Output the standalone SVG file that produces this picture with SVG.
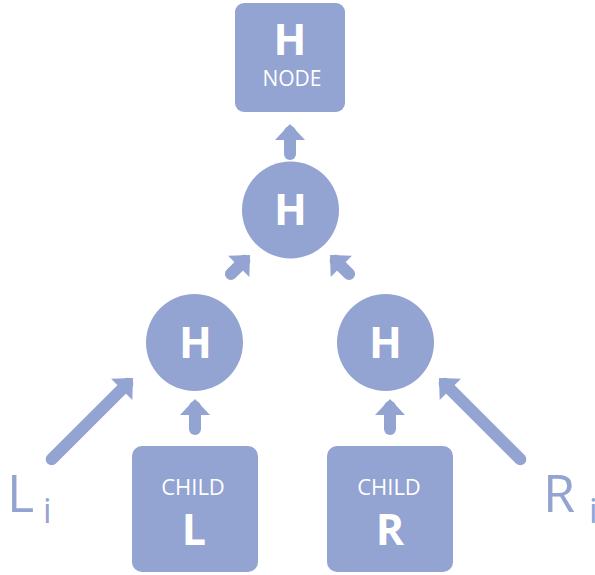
<svg xmlns="http://www.w3.org/2000/svg" width="595" height="575" viewBox="0 0 595 575">
<style>
.n{fill:#93a3d2}
.t{fill:#ffffff;font-family:"Open Sans","Noto Sans","DejaVu Sans",sans-serif;text-anchor:middle}
.b{font-weight:bold;font-size:43px}
.s{font-size:21px}
.lab{fill:#93a3d2;font-family:"Open Sans","Noto Sans","DejaVu Sans",sans-serif}
.sh{stroke:#93a3d2;stroke-width:12;stroke-linecap:round;fill:none}
.hd{fill:#93a3d2}
</style>
<defs>
<g id="arr">
<line class="sh" x1="0" y1="8" x2="0" y2="30"/>
<polygon class="hd" points="0,0 15,16 -15,16"/>
</g>
<g id="arrd">
<line class="sh" x1="0" y1="8" x2="0" y2="27"/>
<polygon class="hd" points="0,0 15,16 -15,16"/>
</g>
</defs>
<g id="connectors">
<use href="#arr" transform="translate(290,124)"/>
<use href="#arrd" transform="translate(250,255) rotate(45)"/>
<use href="#arrd" transform="translate(330,255) rotate(-45)"/>
<use href="#arr" transform="translate(195,399)"/>
<use href="#arr" transform="translate(390,399)"/>
<g transform="translate(133,378) rotate(45)">
<line class="sh" x1="0" y1="8" x2="0" y2="115"/>
<polygon class="hd" points="0,0 15,16 -15,16"/>
</g>
<g transform="translate(439,378) rotate(-45)">
<line class="sh" x1="0" y1="8" x2="0" y2="115"/>
<polygon class="hd" points="0,0 15,16 -15,16"/>
</g>
</g>
<g id="node-top">
<rect class="n" x="235" y="3" width="110" height="109" rx="9"/>
<text class="t b" x="290" y="55">H</text>
<text class="t s" x="292" y="86">NODE</text>
</g>
<g id="h-top">
<circle class="n" cx="290.5" cy="210" r="48.5"/>
<text class="t b" x="290.5" y="225">H</text>
</g>
<g id="h-left">
<circle class="n" cx="194.5" cy="342.5" r="48.5"/>
<text class="t b" x="195.5" y="358">H</text>
</g>
<g id="h-right">
<circle class="n" cx="385.5" cy="342.5" r="48.5"/>
<text class="t b" x="385.5" y="358">H</text>
</g>
<g id="child-l">
<rect class="n" x="132" y="446" width="126" height="126" rx="10"/>
<text class="t" x="193" y="495" font-size="22">CHILD</text>
<text class="t b" x="194" y="545">L</text>
</g>
<g id="child-r">
<rect class="n" x="327" y="446" width="126" height="126" rx="10"/>
<text class="t" x="389" y="495" font-size="22">CHILD</text>
<text class="t b" x="390" y="545">R</text>
</g>
<g id="label-li">
<text class="lab" x="7" y="512" font-size="52">L</text>
<text class="lab" x="43" y="523" font-size="34">i</text>
</g>
<g id="label-ri">
<text class="lab" x="543" y="512" font-size="52">R</text>
<text class="lab" x="589" y="523" font-size="34">i</text>
</g>
</svg>
